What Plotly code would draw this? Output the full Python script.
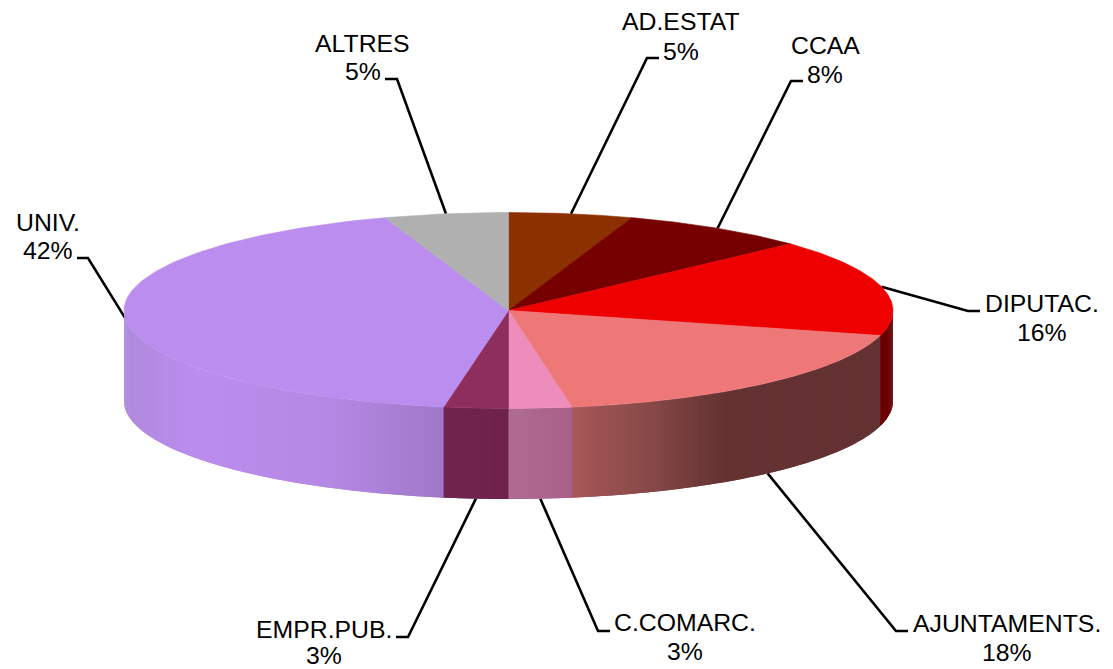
import numpy as np
import plotly.graph_objects as go

# ---- data (clockwise from 12 o'clock) ----
CATEGORIES = ["AD.ESTAT", "CCAA", "DIPUTAC.", "AJUNTAMENTS.", "C.COMARC.", "EMPR.PUB.", "UNIV.", "ALTRES"]
SHARES = [5.2, 7.9, 16.0, 18.26, 2.64, 2.7, 42.1, 5.2]
SHARE_LABELS = ["5%", "8%", "16%", "18%", "3%", "3%", "42%", "5%"]

# ---- styles ----
TOP_COLORS = ["#8C3000", "#760000", "#EE0000", "#EE7777", "#EE8DBC", "#8D2E5F", "#BB8DEE", "#B0B0B0"]
WALL_STOPS = {
    "DIPUTAC.": [(0.0, "#6A0000"), (1.0, "#6A0000")],
    "AJUNTAMENTS.": [(572, "#A85858"), (650, "#884848"), (725, "#643232"), (885, "#643232")],
    "C.COMARC.": [(509, "#B06C90"), (572, "#A86088")],
    "EMPR.PUB.": [(444, "#70244E"), (509, "#6E224C")],
    "UNIV.": [(124, "#AE8ADB"), (195, "#BB8DEE"), (330, "#B588E4"), (444, "#A078C8")],
}
CX, CY, RX, RY, DEPTH = 508.5, 310.5, 384.5, 98.0, 90.5
LABEL_XY = {
    "AD.ESTAT": (680.5, 21, 51), "CCAA": (825, 45, 74), "DIPUTAC.": (1042, 303, 332),
    "AJUNTAMENTS.": (1006.5, 623, 652), "C.COMARC.": (684.5, 622, 651), "EMPR.PUB.": (323.5, 629, 655),
    "UNIV.": (47.5, 222, 250), "ALTRES": (362.5, 43, 71),
}
ELBOWS = {
    "AD.ESTAT": [(647, 58), (659, 58)], "CCAA": [(791, 81), (803, 81)], "DIPUTAC.": [(968, 311), (980, 311)],
    "AJUNTAMENTS.": [(896, 631), (908, 631)], "C.COMARC.": [(598, 631), (610, 631)],
    "EMPR.PUB.": [(408, 637), (396, 637)], "UNIV.": [(88, 258), (77, 258)], "ALTRES": [(397, 79), (385, 79)],
}
WALL_ANCHOR = {"AJUNTAMENTS.", "C.COMARC.", "EMPR.PUB."}
PAGE_MARGIN = 8  # the browser's default body margin


def rim(t):
    return CX + RX * np.sin(t), CY - RY * np.cos(t)


def hex2rgb(h):
    return np.array([int(h[i:i + 2], 16) for i in (1, 3, 5)], float)


def wall_color(name, x):
    st = WALL_STOPS[name]
    xs = [s[0] for s in st]
    if name == "DIPUTAC.":
        return st[0][1]
    cols = np.array([hex2rgb(s[1]) for s in st])
    c = [np.interp(x, xs, cols[:, i]) for i in range(3)]
    return "rgb(%d,%d,%d)" % tuple(round(v) for v in c)


edges = np.cumsum([0] + SHARES) / sum(SHARES) * 2 * np.pi
fig = go.Figure()


def poly(xs, ys, color, width=0.6):
    fig.add_trace(go.Scatter(x=xs, y=ys, mode="lines", fill="toself", fillcolor=color,
                             line=dict(color=color, width=width), hoverinfo="skip", showlegend=False))


# leader lines
for i, name in enumerate(CATEGORIES):
    mid = (edges[i] + edges[i + 1]) / 2
    ax, ay = rim(mid)
    if name in WALL_ANCHOR:
        ay += DEPTH
    pts = [(ax, ay)] + ELBOWS[name]
    fig.add_trace(go.Scatter(x=[p[0] for p in pts], y=[p[1] for p in pts], mode="lines",
                             line=dict(color="black", width=2.6), hoverinfo="skip", showlegend=False))

# outer wall, strip by strip; each strip runs under the next so no seams show
STEP = np.radians(0.5)
for i, name in enumerate(CATEGORIES):
    lo, hi = max(edges[i], np.pi / 2), min(edges[i + 1], 3 * np.pi / 2)
    if hi <= lo or name not in WALL_STOPS:
        continue
    n = max(int((hi - lo) / STEP), 1)
    ts = np.linspace(lo, hi, n + 1)
    for a, b in zip(ts[:-1], ts[1:]):
        end = min(b + STEP, 3 * np.pi / 2)
        tt = np.linspace(a, end, 5)
        x, y = rim(tt)
        xs = list(x) + list(x[::-1]) + [x[0]]
        ys = list(y) + list((y + DEPTH)[::-1]) + [y[0]]
        poly(xs, ys, wall_color(name, rim((a + b) / 2)[0]), width=0)

# top face
for i, name in enumerate(CATEGORIES):
    tt = np.linspace(edges[i], edges[i + 1], 120)
    x, y = rim(tt)
    poly([CX] + list(x) + [CX], [CY] + list(y) + [CY], TOP_COLORS[i])

# labels
for i, name in enumerate(CATEGORIES):
    lx, y1, y2 = LABEL_XY[name]
    for txt, yy in ((name, y1), (SHARE_LABELS[i], y2)):
        fig.add_annotation(x=lx, y=yy, xref="x", yref="y", text=txt, showarrow=False,
                           xanchor="center", yanchor="middle", height=26,
                           font=dict(family="Liberation Sans, Arial, sans-serif", size=24.8, color="black"))

fig.update_layout(
    width=1113 - PAGE_MARGIN, height=669 - PAGE_MARGIN, autosize=False, margin=dict(l=0, r=0, t=0, b=0),
    paper_bgcolor="white", plot_bgcolor="white", showlegend=False,
    xaxis=dict(range=[PAGE_MARGIN, 1113], visible=False, fixedrange=True),
    yaxis=dict(range=[669, PAGE_MARGIN], visible=False, fixedrange=True),
)
fig.write_html("out.html", config=dict(displayModeBar=False))
